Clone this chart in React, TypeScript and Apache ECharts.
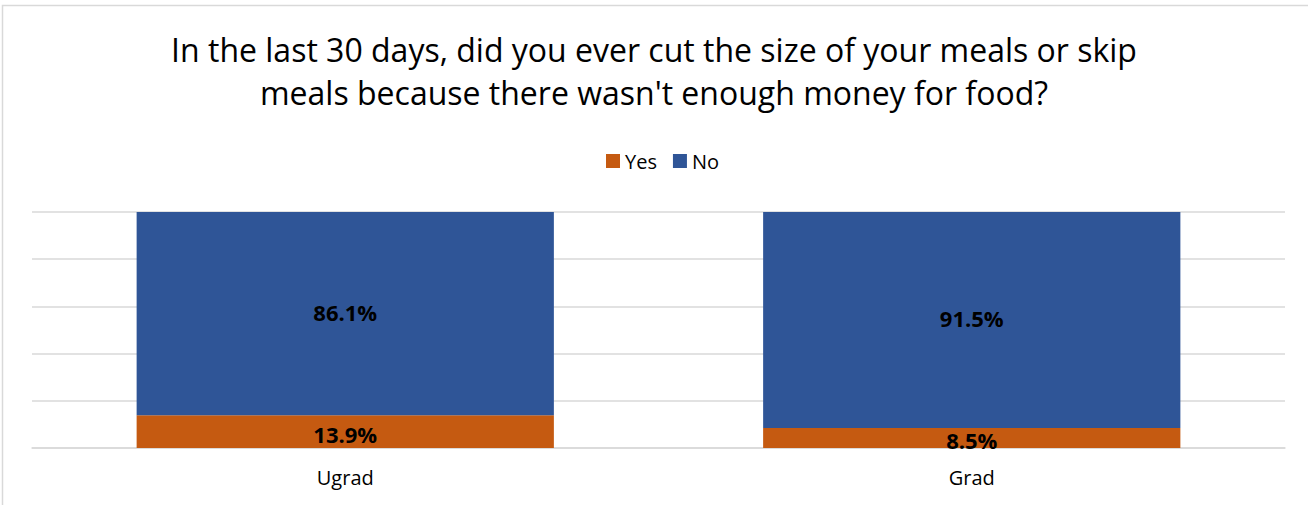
import React, { useEffect, useRef } from "react";
import * as echarts from "echarts";

const categories = ["Ugrad", "Grad"];
const yesValues = [13.9, 8.5];
const noValues = [86.1, 91.5];
const titleText = "In the last 30 days, did you ever cut the size of your meals or skip\nmeals because there wasn't enough money for food?";

export default function App() {
  const ref = useRef<HTMLDivElement>(null);
  useEffect(() => {
    const chart = echarts.init(ref.current!, null, { renderer: "svg" });
    const font = "'Open Sans', 'Liberation Sans', sans-serif";
    const label = {
      show: true,
      position: "inside",
      fontFamily: font,
      fontWeight: "bold",
      fontSize: 22,
      color: "#000",
      formatter: (p: any) => p.value.toFixed(1) + "%",
    };
    chart.setOption({
      animation: false,
      backgroundColor: "#fff",
      textStyle: { fontFamily: font },
      title: {
        text: titleText,
        left: "center",
        top: 23,
        textStyle: { fontFamily: font, fontSize: 32, fontWeight: "normal", color: "#000", lineHeight: 43 },
      },
      legend: {
        top: 146,
        left: 601,
        itemWidth: 14,
        itemHeight: 14,
        itemGap: 16,
        textStyle: { fontFamily: font, fontSize: 20, color: "#000", padding: [0, 0, 0, 0] },
        data: ["Yes", "No"],
        icon: "rect",
      },
      grid: { left: 32, right: 23, top: 212, bottom: 57 },
      xAxis: {
        type: "category",
        data: categories,
        axisLine: { show: true, lineStyle: { color: "#d9d9d9", width: 1.5 } },
        axisTick: { show: false },
        axisLabel: { fontFamily: font, fontSize: 20, color: "#000", margin: 19 },
      },
      yAxis: {
        type: "value",
        min: 0,
        max: 100,
        interval: 20,
        axisLabel: { show: false },
        axisLine: { show: false },
        axisTick: { show: false },
        splitLine: { lineStyle: { color: "#d9d9d9", width: 1.5 } },
      },
      series: [
        {
          name: "Yes",
          type: "bar",
          stack: "a",
          data: yesValues,
          barCategoryGap: "33.4%",
          itemStyle: { color: "#C55A11" },
          label: { ...label, offset: [0, 2] },
        },
        {
          name: "No",
          type: "bar",
          stack: "a",
          data: noValues,
          barCategoryGap: "33.4%",
          itemStyle: { color: "#2F5597" },
          label: { ...label, offset: [0, -2] },
        },
      ],
      graphic: [
        {
          type: "rect",
          shape: { x: 2.5, y: 5.5, width: 1320, height: 520 },
          style: { fill: "none", stroke: "#d9d9d9", lineWidth: 1.5 },
          silent: true,
        },
      ],
    });
    return () => chart.dispose();
  }, []);
  return <div ref={ref} style={{ position: "fixed", left: 0, top: 0, width: 1308, height: 505 }} />;
}
